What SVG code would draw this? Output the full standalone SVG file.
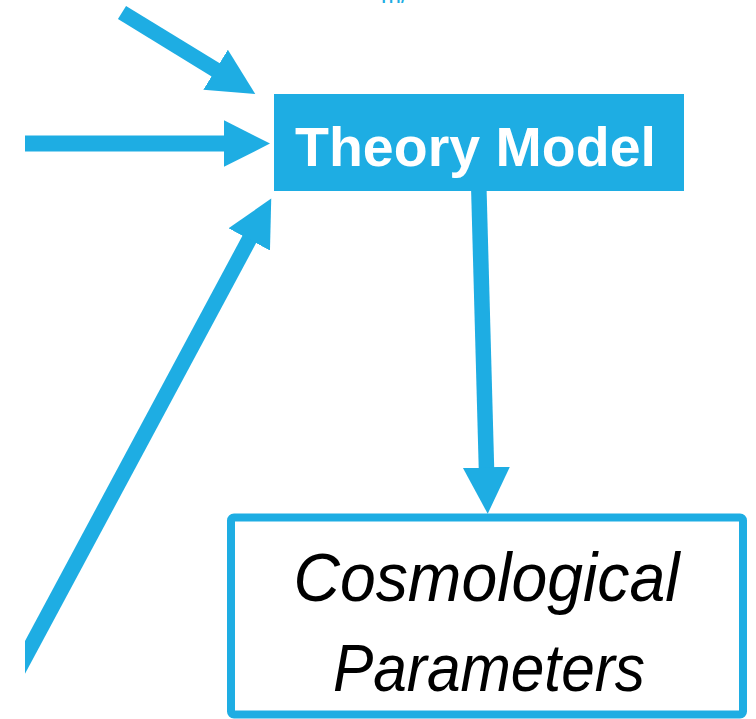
<svg xmlns="http://www.w3.org/2000/svg" width="756" height="719" viewBox="0 0 756 719">
<style>
.conn{stroke:#1eade3;fill:none;stroke-linecap:butt}
.head{fill:#1eade3}
.lbl{font-family:"Liberation Sans",Arial,sans-serif}
</style>
<defs>
<marker id="ah" markerUnits="userSpaceOnUse" markerWidth="48" markerHeight="48" viewBox="0 -24 48 48" refX="2" refY="0" orient="auto">
<path class="head" d="M0,-23.5 L46.5,0 L0,23.5 Z"/>
</marker>
<clipPath id="clipL"><rect x="25" y="0" width="731" height="719"/></clipPath>
</defs>
<rect width="756" height="719" fill="#ffffff"/>
<text class="lbl" x="381" y="3" font-size="24" fill="#1eade3">m/</text>
<g id="connectors">
<line class="conn" x1="122" y1="12.5" x2="217.3" y2="70.8" stroke-width="15.5" marker-end="url(#ah)"/>
<line class="conn" x1="25" y1="143.6" x2="225.5" y2="143.6" stroke-width="16" marker-end="url(#ah)"/>
<g clip-path="url(#clipL)">
<line class="conn" x1="15" y1="676" x2="250.2" y2="237.7" stroke-width="15.5" marker-end="url(#ah)"/>
</g>
<line class="conn" x1="478.8" y1="188" x2="486.5" y2="469.3" stroke-width="15.5" marker-end="url(#ah)"/>
</g>
<g id="theory-model">
<rect x="274" y="94" width="410" height="97" fill="#1eade3"/>
<text class="lbl" x="295" y="165.5" font-size="56" font-weight="bold" fill="#ffffff" textLength="361" lengthAdjust="spacingAndGlyphs">Theory Model</text>
</g>
<g id="cosmological-parameters">
<rect x="231" y="517.5" width="512" height="197" rx="3" fill="#ffffff" stroke="#1eade3" stroke-width="8"/>
<text class="lbl" x="293.5" y="600.5" font-size="68" font-style="italic" fill="#000000" textLength="386" lengthAdjust="spacingAndGlyphs">Cosmological</text>
<text class="lbl" x="333" y="691" font-size="66" font-style="italic" fill="#000000" textLength="312" lengthAdjust="spacingAndGlyphs">Parameters</text>
</g>
</svg>
